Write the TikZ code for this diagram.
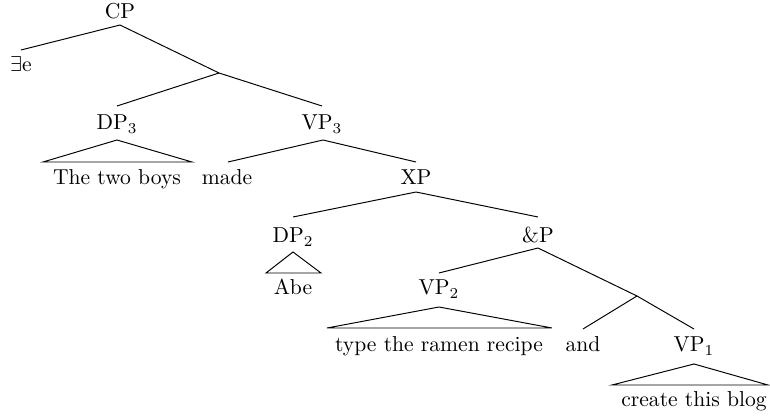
\documentclass[tikz,border=0pt]{standalone}
\begin{document}
\begin{tikzpicture}[x=0.463pt,y=-0.463pt,
  lbl/.style={anchor=base,inner sep=0pt,font=\fontsize{10}{12}\selectfont},
  edge/.style={line width=0.45pt},
  tri/.style={line width=0.45pt}]
\useasboundingbox (0,0) rectangle (770,419);
% labels
\node[lbl] (cp)   at (120,19)  {CP};
\node[lbl] (ex)   at (21,72)   {$\exists$e};
\node[lbl] (dp3)  at (117,130) {DP$_3$};
\node[lbl] (vp3)  at (322,130) {VP$_3$};
\node[lbl] (boys) at (117,185) {The two boys};
\node[lbl] (made) at (227,185) {made};
\node[lbl] (xp)   at (416,185) {XP};
\node[lbl] (dp2)  at (293,243) {DP$_2$};
\node[lbl] (andp) at (538,243) {\&P};
\node[lbl] (abe)  at (293,295) {Abe};
\node[lbl] (vp2)  at (439,295) {VP$_2$};
\node[lbl] (type) at (439,352) {type the ramen recipe};
\node[lbl] (and)  at (583,352) {and};
\node[lbl] (vp1)  at (694,352) {VP$_1$};
\node[lbl] (blog) at (694,407) {create this blog};
% attachment points
\coordinate (cp-b)   at (120,25);
\coordinate (ex-t)   at (21,50);
\coordinate (j1)     at (219,73);
\coordinate (dp3-t)  at (117,106);
\coordinate (vp3-t)  at (322,106);
\coordinate (dp3-b)  at (117,140);
\coordinate (dp3-l)  at (43,162);
\coordinate (dp3-r)  at (192,162);
\coordinate (vp3-b)  at (323,140);
\coordinate (made-t) at (228,162);
\coordinate (xp-t)   at (416,162);
\coordinate (xp-b)   at (416,192);
\coordinate (dp2-t)  at (293,217);
\coordinate (andp-t) at (538,217);
\coordinate (dp2-b)  at (293,252);
\coordinate (dp2-l)  at (266,273);
\coordinate (dp2-r)  at (321,273);
\coordinate (andp-b) at (538,248);
\coordinate (vp2-t)  at (439,273);
\coordinate (j2)     at (637,296);
\coordinate (vp2-b)  at (439,307);
\coordinate (vp2-l)  at (327,328);
\coordinate (vp2-r)  at (552,328);
\coordinate (and-t)  at (583,329);
\coordinate (vp1-t)  at (694,329);
\coordinate (vp1-b)  at (694,364);
\coordinate (vp1-l)  at (612,385);
\coordinate (vp1-r)  at (768,385);
% edges
\draw[edge] (cp-b) -- (ex-t);
\draw[edge] (cp-b) -- (j1);
\draw[edge] (j1) -- (dp3-t);
\draw[edge] (j1) -- (vp3-t);
\draw[tri] (dp3-b) -- (dp3-l) -- (dp3-r) -- cycle;
\draw[edge] (vp3-b) -- (made-t);
\draw[edge] (vp3-b) -- (xp-t);
\draw[edge] (xp-b) -- (dp2-t);
\draw[edge] (xp-b) -- (andp-t);
\draw[tri] (dp2-b) -- (dp2-l) -- (dp2-r) -- cycle;
\draw[edge] (andp-b) -- (vp2-t);
\draw[edge] (andp-b) -- (j2);
\draw[tri] (vp2-b) -- (vp2-l) -- (vp2-r) -- cycle;
\draw[edge] (j2) -- (and-t);
\draw[edge] (j2) -- (vp1-t);
\draw[tri] (vp1-b) -- (vp1-l) -- (vp1-r) -- cycle;
\end{tikzpicture}
\end{document}
